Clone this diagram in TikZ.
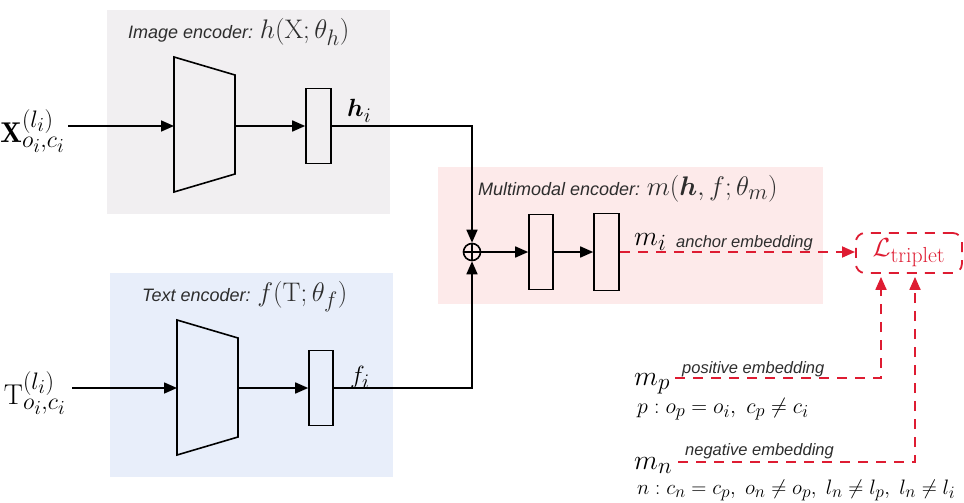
\documentclass[tikz,border=0pt]{standalone}
\usepackage{amsmath,bm,graphicx}
\usepackage{fontspec}
\newfontfamily\lab{Liberation Sans}
\usetikzlibrary{arrows.meta}
\definecolor{redl}{RGB}{222,28,50}
\definecolor{grayb}{RGB}{241,239,241}
\definecolor{blueb}{RGB}{232,238,250}
\definecolor{pinkb}{RGB}{253,234,234}
\definecolor{txt}{RGB}{45,45,45}
\newcommand{\tmath}[1]{\normalfont\fontsize{24.88}{28}\selectfont\scalebox{1.08}{#1}}
\newcommand{\mlab}[1]{\scalebox{1.12}{#1}}
\newcommand{\inpm}[1]{\scalebox{1.15}{#1}}
\newcommand{\eqm}[1]{\scalebox{0.88}{#1}}
\newcommand{\eqn}[1]{\scalebox{0.84}{#1}}
\begin{document}
\begin{tikzpicture}[x=1pt,y=-1pt,
  ln/.style={line width=1.6pt},
  arr/.style={ln,-{Triangle[length=13pt,width=11pt]}},
  rdash/.style={redl,line width=1.8pt,dash pattern=on 10pt off 8pt},
  rarr/.style={rdash,-{Triangle[length=13pt,width=11pt]}},
  blk/.style={draw,line width=1.6pt,minimum width=24pt,minimum height=75pt,inner sep=0pt},
  ttl/.style={anchor=base west,inner sep=0pt,text=txt,font=\lab\itshape\fontsize{18}{21}\selectfont},
  emb/.style={anchor=base west,inner sep=0pt,text=txt,font=\lab\itshape\fontsize{16.5}{19}\selectfont},
  mth/.style={anchor=base west,inner sep=0pt,font=\fontsize{24.88}{28}\selectfont},
  eqs/.style={anchor=base west,inner sep=0pt,font=\fontsize{24.88}{28}\selectfont},
  inp/.style={anchor=east,inner sep=0pt,font=\fontsize{24.88}{28}\selectfont}
]
\useasboundingbox (0,0) rectangle (964,503);
% background boxes
\fill[grayb] (107,10) rectangle (390,214);
\fill[blueb] (110,273) rectangle (393,477);
\fill[pinkb] (438,167) rectangle (823,304);

% titles
\node[ttl] (t1) at (128,39) {Image encoder: \tmath{$h(\mathrm{X};\theta_h)$}};
\node[ttl] (t2) at (142,301) {Text encoder: \tmath{$f(\mathrm{T};\theta_f)$}};
\node[ttl] (t3) at (478,195) {Multimodal encoder: \tmath{$m(\bm{h},f;\theta_m)$}};

% image encoder
\draw[ln] (174,57) -- (235,75) -- (235,174) -- (174,192) -- cycle;
\coordinate (tr1w) at (174,126);
\coordinate (tr1e) at (235,126);
\node[blk,minimum width=25pt] (r1) at (318.5,126) {};
\node[inp] (X) at (65,131) {\inpm{$\mathbf{X}^{(l_i)}_{o_i,c_i}$}};
\draw[arr] (X.east |- tr1w) ++(3,0) -- (tr1w);
\draw[arr] (tr1e) -- (r1.west);
\node[mth] (hi) at (347,117) {$\bm{h}_i$};

% text encoder
\draw[ln] (177,320) -- (238,338) -- (238,437) -- (177,455) -- cycle;
\coordinate (tr2w) at (177,388);
\coordinate (tr2e) at (238,388);
\node[blk] (r2) at (321,388) {};
\node[inp] (T) at (66,393) {\inpm{$\mathrm{T}^{(l_i)}_{o_i,c_i}$}};
\draw[arr] (T.east |- tr2w) ++(6,0) -- (tr2w);
\draw[arr] (tr2e) -- (r2.west);
\node[mth] (fi) at (350,383) {$f_i$};

% multimodal encoder
\node[circle,draw,line width=1.6pt,minimum size=17pt,inner sep=0pt] (op) at (472,252) {};
\draw[ln] (op.north) -- (op.south);
\draw[ln] (op.west) -- (op.east);
\draw[arr] (r1.east) -| (op.north);
\draw[arr] (r2.east) -| (op.south);
\node[blk] (r3) at (541,252) {};
\node[blk,minimum width=25pt,minimum height=77pt] (r4) at (606.5,252) {};
\draw[arr] (op.east) -- (r3.west);
\draw[arr] (r3.east) -- (r4.west);
\node[mth] (mi) at (634,245) {\mlab{$m_i$}};
\node[emb] (anc) at (676,247) {anchor embedding};

% triplet loss
\node[draw=redl,line width=1.8pt,dash pattern=on 10pt off 8pt,rounded corners=9pt,
      minimum width=106pt,minimum height=40pt,anchor=west,inner sep=0pt,
      text=redl,font=\fontsize{24.88}{28}\selectfont] (L) at (855,253) {\scalebox{1.05}{$\mathcal{L}_{\text{triplet}}$}};
\draw[rarr] (r4.east) -- (L.west |- r4.east);

% positive / negative
\node[mth] (mp) at (634,385) {\mlab{$m_p$}};
\node[emb] (pe) at (682,373) {positive embedding};
\node[eqs] (peq) at (637,413) {\eqm{$p : o_p = o_i,\ c_p \neq c_i$}};
\coordinate (ps) at (675,378);
\coordinate (pc) at (881,378);
\draw[rarr,shorten >=3pt] (ps) -- (pc) -- (pc |- L.south);

\node[mth] (mn) at (634,469) {\mlab{$m_n$}};
\node[emb] (ne) at (685,455) {negative embedding};
\node[eqs] (neq) at (637,494) {\eqn{$n : c_n = c_p,\; o_n \neq o_p,\; l_n \neq l_p,\; l_n \neq l_i$}};
\coordinate (ns) at (678,462);
\coordinate (nc) at (915,462);
\draw[rarr,shorten >=3pt] (ns) -- (nc) -- (nc |- L.south);
\end{tikzpicture}
\end{document}
